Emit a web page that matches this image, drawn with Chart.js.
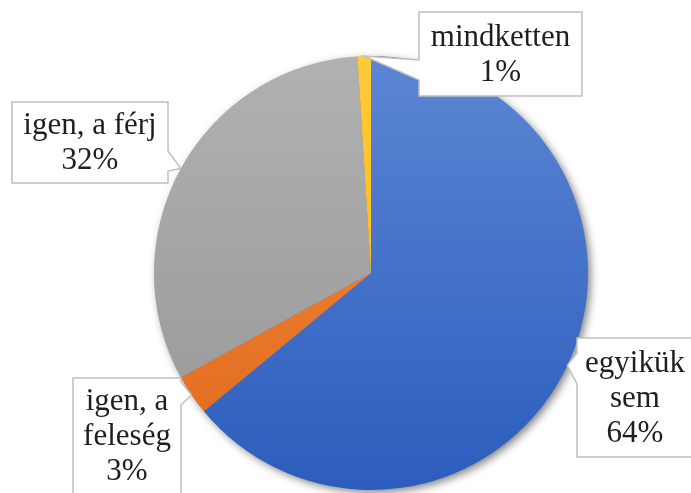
<!DOCTYPE html>
<html>
<head>
<meta charset="utf-8">
<script src="https://cdn.jsdelivr.net/npm/chart.js@4"></script>
<style>
  html, body { margin: 0; padding: 0; background: #fff; }
  canvas { display: block; }
</style>
</head>
<body>
<canvas id="kor" width="691" height="493"></canvas>
<script>
// adatok
const kategoriak = ["egyikük sem", "igen, a feleség", "igen, a férj", "mindketten"];
const ertekek = [64, 3, 32, 1];

// színek (felső, alsó) a színátmenethez
const szinek = [
  ["#5b86d4", "#2c5dbd"],
  ["#f5893c", "#df6a1d"],
  ["#b1b1b1", "#969696"],
  ["#ffc93c", "#f7b900"]
];

// feliratdobozok: hely, méret, melyik oldalon a csőr
const dobozok = [
  { x: 577, y: 338, w: 117, h: 119, oldal: "left", b0: 353, b1: 384 },
  { x: 73, y: 378, w: 108, h: 116, oldal: "right", b0: 382, b1: 405 },
  { x: 12, y: 102, w: 156, h: 81, oldal: "right", b0: 151, b1: 171 },
  { x: 419, y: 12, w: 163, h: 84, oldal: "left", b0: 60, b1: 80 }
];

const betu = "31px 'Liberation Serif', 'Times New Roman', serif";

function tordeles(ctx, szoveg, max) {
  const szavak = szoveg.split(" ");
  const sorok = [];
  let akt = "";
  szavak.forEach(sz => {
    const proba = akt ? akt + " " + sz : sz;
    if (ctx.measureText(proba).width > max && akt) {
      sorok.push(akt);
      akt = sz;
    } else {
      akt = proba;
    }
  });
  if (akt) sorok.push(akt);
  return sorok;
}

const arnyek = {
  id: "arnyek",
  beforeDatasetsDraw(chart) {
    const ctx = chart.ctx;
    const ív = chart.getDatasetMeta(0).data[0];
    ctx.save();
    ctx.shadowColor = "rgba(0,0,0,0.5)";
    ctx.shadowBlur = 9;
    ctx.shadowOffsetX = 3;
    ctx.shadowOffsetY = 3;
    ctx.beginPath();
    ctx.arc(ív.x, ív.y, ív.outerRadius - 0.5, 0, Math.PI * 2);
    ctx.fillStyle = "#7f7f7f";
    ctx.fill();
    ctx.restore();
  }
};

const feliratok = {
  id: "feliratok",
  afterDraw(chart) {
    const ctx = chart.ctx;
    const meta = chart.getDatasetMeta(0);
    const osszeg = ertekek.reduce((a, b) => a + b, 0);
    ctx.save();
    ctx.font = betu;
    meta.data.forEach((ív, i) => {
      const d = dobozok[i];
      const kozep = (ív.startAngle + ív.endAngle) / 2;
      const cx = ív.x + Math.cos(kozep) * ív.outerRadius;
      const cy = ív.y + Math.sin(kozep) * ív.outerRadius;

      ctx.beginPath();
      if (d.oldal === "left") {
        ctx.moveTo(d.x, d.y);
        ctx.lineTo(d.x + d.w, d.y);
        ctx.lineTo(d.x + d.w, d.y + d.h);
        ctx.lineTo(d.x, d.y + d.h);
        ctx.lineTo(d.x, d.b1);
        ctx.lineTo(cx, cy);
        ctx.lineTo(d.x, d.b0);
      } else {
        ctx.moveTo(d.x, d.y);
        ctx.lineTo(d.x + d.w, d.y);
        ctx.lineTo(d.x + d.w, d.b0);
        ctx.lineTo(cx, cy);
        ctx.lineTo(d.x + d.w, d.b1);
        ctx.lineTo(d.x + d.w, d.y + d.h);
        ctx.lineTo(d.x, d.y + d.h);
      }
      ctx.closePath();
      ctx.fillStyle = "#ffffff";
      ctx.fill();
      ctx.strokeStyle = "#bfbfbf";
      ctx.lineWidth = 1.5;
      ctx.stroke();

      const sorok = tordeles(ctx, kategoriak[i], d.w - 8);
      sorok.push(Math.round(ertekek[i] / osszeg * 100) + "%");
      const sorTav = 35;
      const kx = d.x + Math.min(d.w, 691 - d.x) / 2 + (d.x + d.w > 691 ? 1 : 0);
      const kezd = d.y + d.h / 2 - (sorok.length - 1) * sorTav / 2;
      ctx.fillStyle = "#1e1e1e";
      ctx.textAlign = "center";
      ctx.textBaseline = "middle";
      sorok.forEach((s, j) => ctx.fillText(s, kx, kezd + j * sorTav + 1));
    });
    ctx.restore();
  }
};

new Chart(document.getElementById("kor").getContext("2d"), {
  type: "pie",
  data: {
    labels: kategoriak,
    datasets: [{
      data: ertekek,
      borderWidth: 0,
      backgroundColor(c) {
        const area = c.chart.chartArea;
        const par = szinek[c.dataIndex % szinek.length];
        if (!area) return par[0];
        const g = c.chart.ctx.createLinearGradient(0, area.top, 0, area.bottom);
        g.addColorStop(0, par[0]);
        g.addColorStop(1, par[1]);
        return g;
      }
    }]
  },
  options: {
    responsive: false,
    animation: false,
    layout: { padding: { left: 154, right: 103, top: 56, bottom: 3 } },
    plugins: {
      legend: { display: false },
      tooltip: { enabled: false }
    }
  },
  plugins: [arnyek, feliratok]
});
</script>
</body>
</html>
